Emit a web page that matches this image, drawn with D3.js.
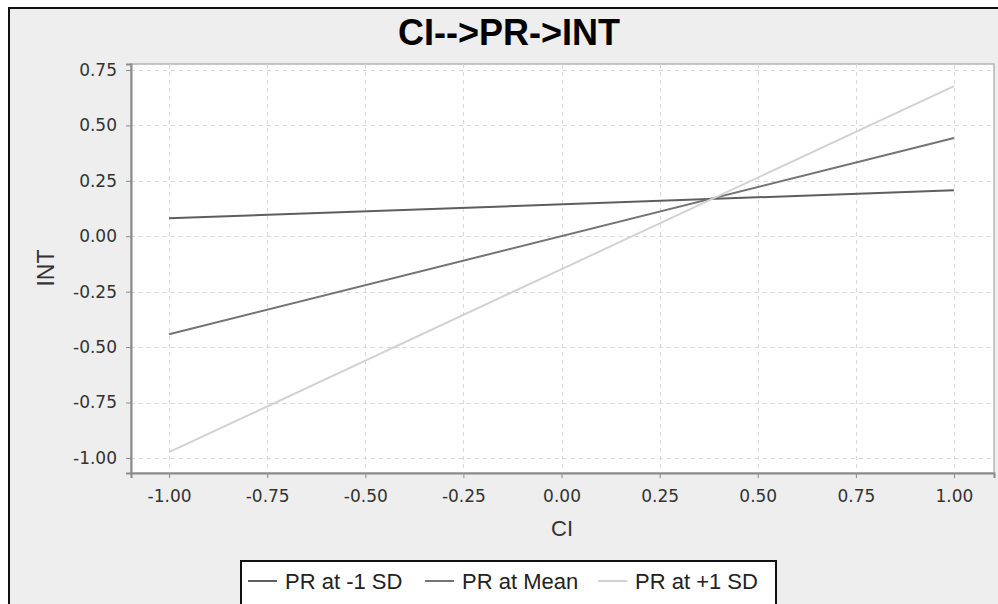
<!DOCTYPE html>
<html><head><meta charset="utf-8">
<script src="https://cdn.jsdelivr.net/npm/d3@7"></script>
<style>html,body{margin:0;padding:0;background:#fff;overflow:hidden}</style>
</head><body><svg id="c" width="998" height="604"></svg>
<script>
const title = "CI-->PR->INT";
const xLabel = "CI", yLabel = "INT";
const seriesNames = ["PR at -1 SD", "PR at Mean", "PR at +1 SD"];
const xValues = [-1.0, 1.0];
const seriesLow = [0.081, 0.207];
const seriesMean = [-0.442, 0.443];
const seriesHigh = [-0.974, 0.677];
const seriesColors = ["#5e5e5e", "#747474", "#d2d2d2"];
const xTicks = [-1, -0.75, -0.5, -0.25, 0, 0.25, 0.5, 0.75, 1];
const yTicks = [-1, -0.75, -0.5, -0.25, 0, 0.25, 0.5, 0.75];

const svg = d3.select("#c");
const L = 131, R = 994, T = 64, B = 473;
const x = d3.scaleLinear().domain([-1.097, 1.102]).range([L, R]);
const y = d3.scaleLinear().domain([-1.068, 0.777]).range([B, T]);

// background panel
svg.append("rect").attr("x", 0).attr("y", 0).attr("width", 998).attr("height", 604).attr("fill", "#fff");
svg.append("rect").attr("x", 9).attr("y", 8).attr("width", 1100).attr("height", 700)
  .attr("fill", "#eeeeee").attr("stroke", "#111").attr("stroke-width", 2);

// plot area
svg.append("rect").attr("x", L).attr("y", T).attr("width", R - L).attr("height", B - T)
  .attr("fill", "#fff").attr("stroke", "#b4b4b4").attr("stroke-width", 1.5);

// grid
const grid = svg.append("g");
grid.selectAll(".gx").data(xTicks).join("line")
  .attr("x1", d => Math.round(x(d)) + 0.5).attr("x2", d => Math.round(x(d)) + 0.5)
  .attr("y1", T).attr("y2", B)
  .attr("stroke", "#d8d8d8").attr("stroke-dasharray", "4,4");
grid.selectAll(".gy").data(yTicks).join("line")
  .attr("y1", d => Math.round(y(d)) + 0.5).attr("y2", d => Math.round(y(d)) + 0.5)
  .attr("x1", L).attr("x2", R)
  .attr("stroke", "#d8d8d8").attr("stroke-dasharray", "4,4");

// axes
const f2 = d3.format(".2f");
const fmt = d => f2(d).replace("\u2212", "-");
const xAxis = svg.append("g").attr("transform", `translate(0,${B})`)
  .call(d3.axisBottom(x).tickValues(xTicks).tickFormat(fmt).tickSize(5).tickPadding(8));
const yAxis = svg.append("g").attr("transform", `translate(${L},0)`)
  .call(d3.axisLeft(y).tickValues(yTicks).tickFormat(fmt).tickSize(5).tickPadding(9));
[xAxis, yAxis].forEach(g => {
  g.select(".domain").attr("stroke", "#8a8a8a").attr("stroke-width", 2);
  g.selectAll(".tick line").attr("stroke", "#8a8a8a");
  g.selectAll(".tick text").attr("fill", "#333").style("font-family", "'DejaVu Sans', sans-serif").style("font-size", "17px");
});
xAxis.selectAll(".tick text").attr("dy", "0.95em");

// lines
const line = d3.line().x(d => x(d[0])).y(d => y(d[1]));
const allSeries = [seriesLow, seriesMean, seriesHigh];
allSeries.forEach((s, i) => {
  svg.append("path").datum(xValues.map((xv, j) => [xv, s[j]]))
    .attr("d", line).attr("fill", "none").attr("stroke", seriesColors[i]).attr("stroke-width", 2);
});

// title
svg.append("text").attr("x", 509).attr("y", 45).attr("text-anchor", "middle")
  .style("font-family", "'Liberation Sans', Arial, sans-serif").style("font-weight", "bold").style("font-size", "36px")
  .attr("fill", "#000").text(title);

// axis labels
svg.append("text").attr("x", 562).attr("y", 536).attr("text-anchor", "middle")
  .style("font-family", "'Liberation Sans', Arial, sans-serif").style("font-size", "22px").attr("fill", "#333").text(xLabel);
svg.append("text").attr("transform", "translate(54,268) rotate(-90)").attr("text-anchor", "middle")
  .style("font-family", "'Liberation Sans', Arial, sans-serif").style("font-size", "23px").attr("fill", "#333").text(yLabel);

// legend
const lg = svg.append("g");
lg.append("rect").attr("x", 241).attr("y", 561).attr("width", 535).attr("height", 60)
  .attr("fill", "#fff").attr("stroke", "#111").attr("stroke-width", 2);
const legX = [248, 425, 598];
seriesNames.forEach((n, i) => {
  lg.append("line").attr("x1", legX[i]).attr("x2", legX[i] + 29).attr("y1", 581).attr("y2", 581)
    .attr("stroke", seriesColors[i]).attr("stroke-width", 2);
  lg.append("text").attr("x", legX[i] + 37).attr("y", 589)
    .style("font-family", "'Liberation Sans', Arial, sans-serif").style("font-size", "22px").attr("fill", "#222").text(n);
});
</script></body></html>
